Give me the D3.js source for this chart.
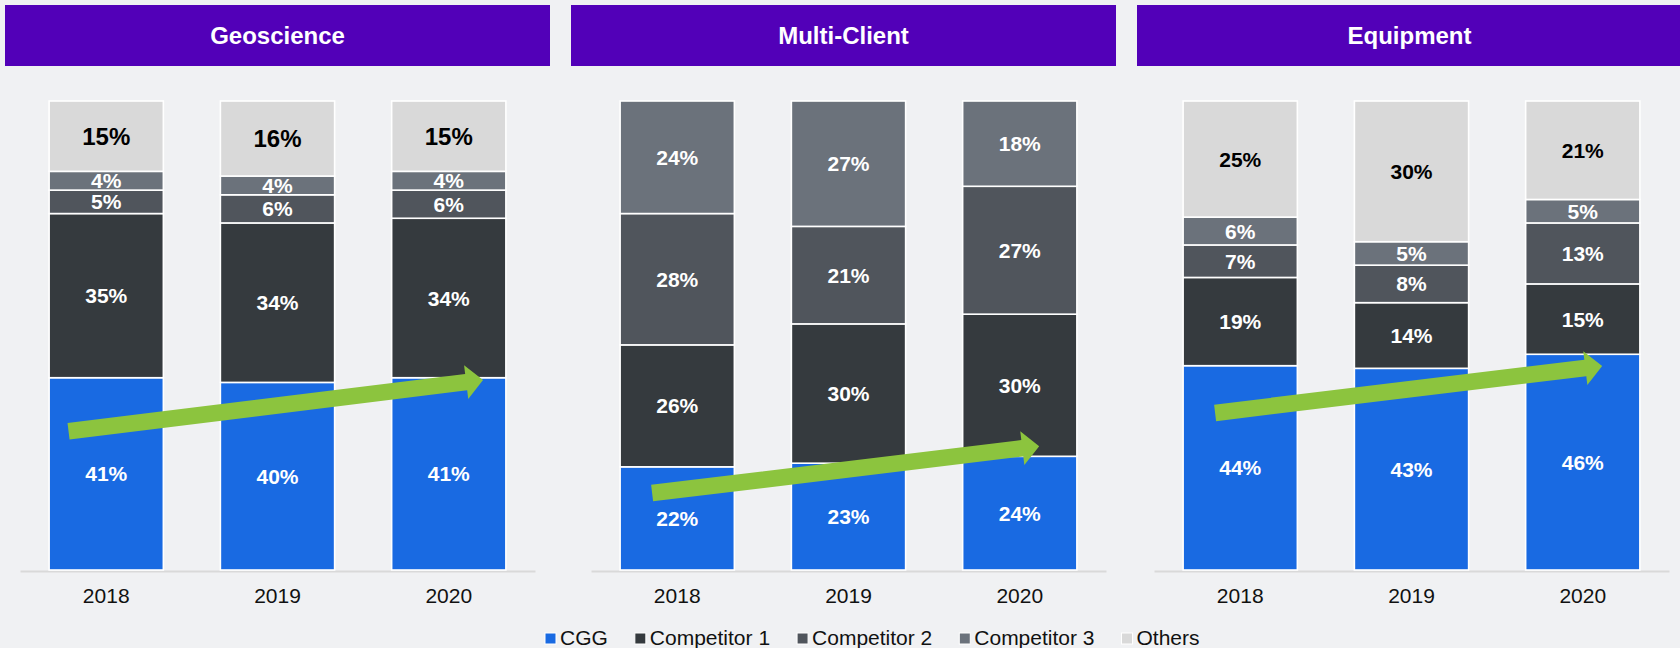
<!DOCTYPE html>
<html>
<head>
<meta charset="utf-8">
<script src="https://cdn.jsdelivr.net/npm/d3@7"></script>
<style>
  html, body { margin: 0; padding: 0; background: #f0f1f3; }
  svg { display: block; font-family: "Liberation Sans", Arial, sans-serif; }
</style>
</head>
<body>
<script>
// Market share by segment, shares in % per year (CGG, Competitor 1, Competitor 2, Competitor 3, Others)
const years = ["2018", "2019", "2020"];
const series = ["CGG", "Competitor 1", "Competitor 2", "Competitor 3", "Others"];
const seriesColors = ["#196ae2", "#353a3e", "#50555c", "#6b727b", "#d9d9d9"];
const panelTitles = ["Geoscience", "Multi-Client", "Equipment"];

const geoscienceShares  = [[41, 35, 5, 4, 15], [40, 34, 6, 4, 16], [41, 34, 6, 4, 15]];
const multiClientShares = [[22, 26, 28, 24, 0], [23, 30, 21, 27, 0], [24, 30, 27, 18, 0]];
const equipmentShares   = [[44, 19, 7, 6, 25], [43, 14, 8, 5, 30], [46, 15, 13, 5, 21]];
const panelShares = [geoscienceShares, multiClientShares, equipmentShares];

// CGG trend arrows: share level (%) at the start (2018) and end (2020)
const trendStart = [29.6, 16.4, 33.5];
const trendEnd   = [40.5, 26.4, 43.5];

const W = 1680, H = 648;
const svg = d3.select("body").append("svg").attr("width", W).attr("height", H);
svg.append("rect").attr("width", W).attr("height", H).attr("fill", "#f0f1f3");

const headerX = [5, 571, 1137], headerW = 545, headerY = 5, headerH = 61;
const chartX = [0, 571, 1134];
const y = d3.scaleLinear().domain([0, 1]).range([570, 101]);
const colorOf = d3.scaleOrdinal().domain(series).range(seriesColors);

panelTitles.forEach((title, i) => {
  // header band
  svg.append("rect")
    .attr("x", headerX[i]).attr("y", headerY)
    .attr("width", headerW).attr("height", headerH)
    .attr("fill", "#5200b8");
  svg.append("text")
    .attr("x", headerX[i] + headerW / 2).attr("y", headerY + headerH / 2)
    .attr("dy", "0.36em")
    .attr("text-anchor", "middle")
    .attr("fill", "#fff")
    .attr("font-weight", "bold")
    .attr("font-size", 24)
    .text(title);

  const g = svg.append("g").attr("transform", `translate(${chartX[i]},0)`);
  const x = d3.scaleBand().domain(years).range([20, 535]).paddingInner(0.333).paddingOuter(0.17);

  const rows = years.map((yr, j) => {
    const r = { year: yr };
    series.forEach((s, k) => { r[s] = panelShares[i][j][k]; });
    return r;
  });
  const stacked = d3.stack().keys(series).offset(d3.stackOffsetExpand)(rows);

  // axis baseline and year labels
  const axis = g.append("g")
    .attr("transform", `translate(0,${y(0) + 1})`)
    .call(d3.axisBottom(x).tickSize(0).tickSizeOuter(0).tickPadding(17.5));
  axis.select(".domain").attr("stroke", "#d9d9d9").attr("stroke-width", 2);
  axis.selectAll("text")
    .attr("font-size", 21)
    .attr("fill", "#111")
    .attr("font-family", "'Liberation Sans', Arial, sans-serif");

  const layer = g.selectAll("g.layer")
    .data(stacked)
    .join("g")
    .attr("class", "layer")
    .attr("fill", d => colorOf(d.key));

  layer.selectAll("rect")
    .data(d => d.filter(p => p.data[d.key] > 0))
    .join("rect")
    .attr("x", p => x(p.data.year))
    .attr("width", x.bandwidth())
    .attr("y", p => y(p[1]))
    .attr("height", p => y(p[0]) - y(p[1]))
    .attr("stroke", "#fff")
    .attr("stroke-width", 1.6);

  // value labels
  stacked.forEach(s => {
    const isOthers = s.key === "Others";
    g.selectAll(null)
      .data(s.filter(p => p.data[s.key] > 0))
      .join("text")
      .attr("x", p => x(p.data.year) + x.bandwidth() / 2)
      .attr("y", p => y((p[0] + p[1]) / 2))
      .attr("dy", "0.36em")
      .attr("text-anchor", "middle")
      .attr("font-weight", "bold")
      .attr("font-size", isOthers && i === 0 ? 24 : 21)
      .attr("fill", isOthers ? "#000" : "#fff")
      .text(p => p.data[s.key] + "%");
  });

  // CGG trend arrow
  const x0 = x(years[0]) + x.bandwidth() * (i === 0 ? 0.17 : 0.28);
  const x1 = x(years[years.length - 1]) + x.bandwidth() * (i === 0 ? 0.80 : 0.67);
  const y0 = y(trendStart[i] / 100), y1 = y(trendEnd[i] / 100);
  const dx = x1 - x0, dyv = y1 - y0, L = Math.hypot(dx, dyv);
  const ux = dx / L, uy = dyv / L, px = -uy, py = ux;
  const shaft = 8.3, headLen = 17, headHalf = 17;
  const bx = x1 - ux * headLen, by = y1 - uy * headLen;
  const pts = [
    [x0 + px * shaft, y0 + py * shaft],
    [bx + px * shaft, by + py * shaft],
    [bx + px * headHalf, by + py * headHalf],
    [x1, y1],
    [bx - px * headHalf, by - py * headHalf],
    [bx - px * shaft, by - py * shaft],
    [x0 - px * shaft, y0 - py * shaft]
  ];
  g.append("path")
    .attr("d", d3.line()(pts) + "Z")
    .attr("fill", "#8cc43e");
});

// legend
const legend = svg.append("g").attr("class", "legend");
let lx = 545;
series.forEach((s, k) => {
  legend.append("rect")
    .attr("x", lx).attr("y", 633)
    .attr("width", 11).attr("height", 11)
    .attr("fill", seriesColors[k])
    .attr("stroke", "#fff").attr("stroke-width", 1);
  const t = legend.append("text")
    .attr("x", lx + 15).attr("y", 645)
    .attr("font-size", 21)
    .attr("fill", "#111")
    .text(s);
  lx += 15 + t.node().getComputedTextLength() + 27;
});
</script>
</body>
</html>
